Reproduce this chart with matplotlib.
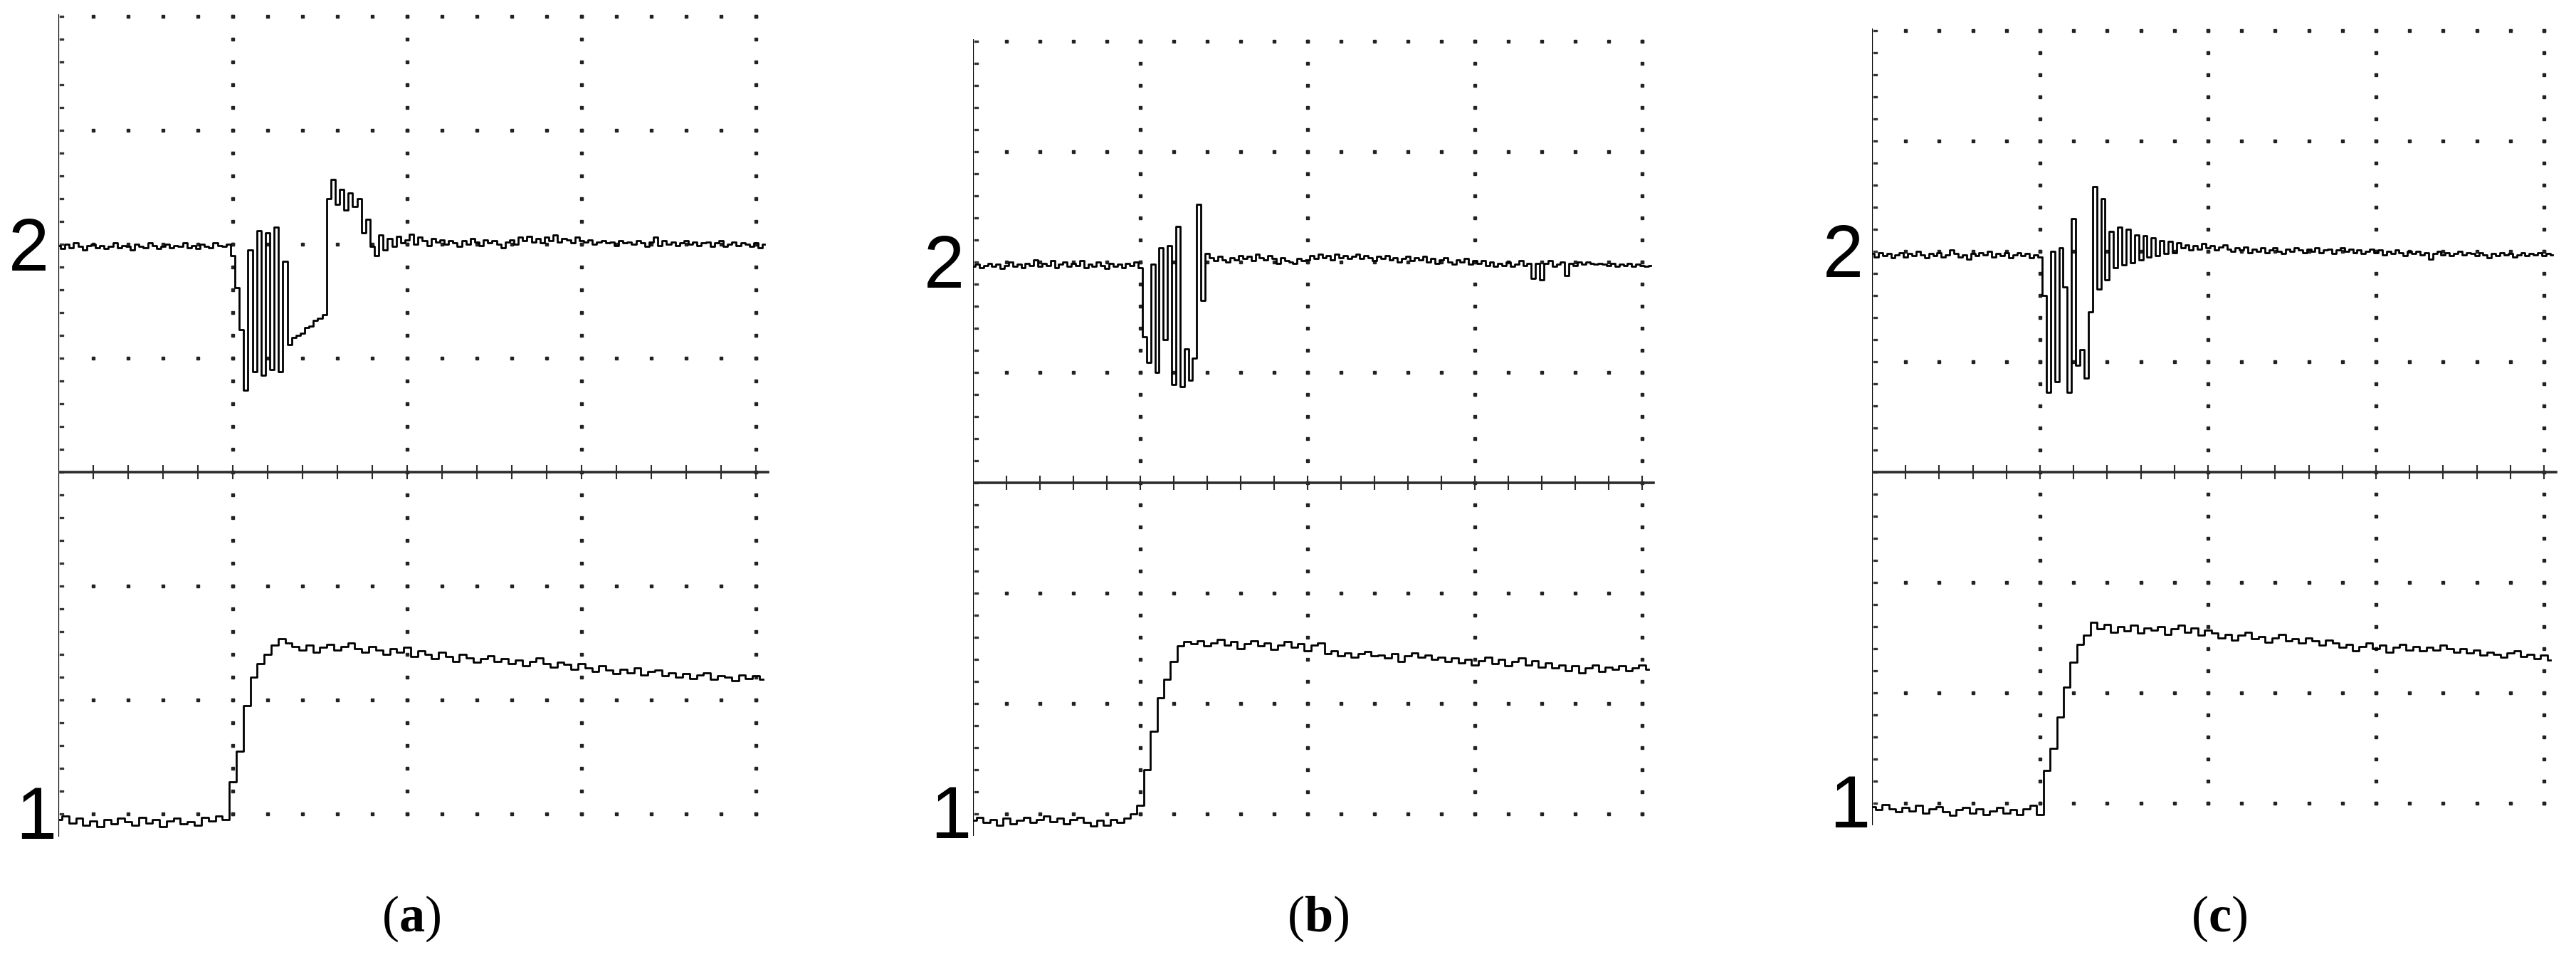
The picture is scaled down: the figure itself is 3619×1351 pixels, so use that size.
import numpy as np
import matplotlib
matplotlib.use('Agg')
import matplotlib.pyplot as plt

plt.rcParams['mathtext.fontset'] = 'custom'
plt.rcParams['mathtext.rm'] = 'Liberation Serif'
plt.rcParams['mathtext.bf'] = 'Liberation Serif:bold'

# channel 2 sampled every 0.025 div, channel 1 every 0.04 div (values in divisions, 0 = centre line)
a_ch2 = [1.99, 1.96, 2.00, 1.97, 2.01, 1.98, 1.95, 1.99, 2.00, 1.97,
         1.99, 1.96, 1.98, 2.01, 1.97, 1.99, 1.98, 1.95, 2.00, 1.98,
         1.97, 2.01, 1.99, 1.96, 1.98, 2.00, 1.97, 1.99, 1.98, 2.01,
         1.97, 1.99, 1.96, 2.00, 1.98, 1.97, 2.01, 1.99, 1.98, 2.00,
         1.90, 1.62, 1.25, 0.72, 1.95, 0.88, 2.12, 0.85, 2.10, 0.90,
         2.15, 0.88, 1.85, 1.12, 1.18, 1.20, 1.22, 1.27, 1.28, 1.33,
         1.35, 1.38, 2.40, 2.57, 2.35, 2.48, 2.30, 2.45, 2.33, 2.40,
         2.10, 2.22, 1.98, 1.90, 2.08, 1.95,
         2.05, 1.98, 2.07, 2.01, 2.04, 2.09, 2.00, 2.06, 2.03, 1.99,
         2.05, 2.02, 2.04, 2.00, 2.03, 2.01, 1.98, 2.03, 2.00, 2.05,
         2.02, 1.99, 2.04, 2.01, 2.03, 2.00, 1.97, 2.02, 2.04, 2.00,
         2.06, 2.03, 2.07, 2.02, 2.05, 2.01, 2.06, 2.03, 2.08, 2.02,
         2.05, 2.04, 2.01, 2.06, 2.03, 2.02, 2.04, 2.00, 2.02, 2.03,
         2.01, 2.02, 1.99, 2.03, 2.01, 2.02, 2.00, 2.03, 2.01, 1.98,
         2.02, 2.06, 1.99, 2.03, 2.00, 2.02, 1.99, 2.01, 2.03, 2.00,
         2.02, 1.99, 2.01, 2.02, 1.98, 2.01, 2.03, 1.98, 2.00, 2.02,
         1.99, 2.01, 2.00, 1.98, 2.01, 1.97, 2.00]
a_ch1 = [-3.05, -3.02, -3.08, -3.04, -3.10, -3.06, -3.11, -3.05, -3.09, -3.04,
         -3.07, -3.10, -3.03, -3.08, -3.05, -3.11, -3.06, -3.04, -3.09, -3.07,
         -3.10, -3.03, -3.06, -3.02, -3.05,
         -2.72, -2.45, -2.05, -1.80, -1.68, -1.60, -1.52, -1.46,
         -1.50, -1.53, -1.56, -1.52, -1.58, -1.54, -1.51, -1.56, -1.53, -1.50,
         -1.55, -1.58, -1.53, -1.56, -1.60, -1.55, -1.58, -1.54,
         -1.62, -1.57, -1.60, -1.64, -1.58, -1.62, -1.66, -1.60, -1.63, -1.67,
         -1.64, -1.61, -1.66, -1.64, -1.68, -1.65, -1.70, -1.66, -1.63, -1.68,
         -1.71, -1.67, -1.69, -1.73, -1.68,
         -1.72, -1.75, -1.70, -1.74, -1.77, -1.73, -1.76, -1.72, -1.78, -1.75,
         -1.74, -1.79, -1.76, -1.80, -1.77, -1.81, -1.78, -1.76, -1.82, -1.79,
         -1.80, -1.83, -1.78, -1.81, -1.79, -1.82]

b_ch2 = [1.96, 1.98, 1.95, 1.97, 1.99, 1.96, 1.98, 1.94, 1.97, 2.00,
         1.96, 1.98, 1.95, 1.99, 1.97, 2.02, 1.96, 1.99, 1.97, 2.01,
         1.95, 1.98, 2.00, 1.96, 1.99, 1.97, 2.01, 1.95, 1.98, 1.96,
         2.00, 1.97, 1.94, 1.99, 1.96, 1.98, 1.95, 1.99, 1.97, 2.00,
         1.95, 1.32, 1.09, 1.98, 1.00, 2.13, 1.30, 2.15, 0.89, 2.32,
         0.87, 1.21, 0.93, 1.13, 2.52, 1.65, 2.08,
         2.04, 2.01, 2.05, 2.02, 2.00, 2.04, 2.02, 2.06, 2.03, 2.05,
         2.01, 2.07, 2.04, 2.02, 2.06, 2.03, 1.99, 2.04, 2.01, 2.00,
         1.99, 2.03, 2.01, 2.02,
         2.06, 2.03, 2.07, 2.04, 2.06, 2.02, 2.07, 2.04, 2.06, 2.03,
         2.05, 2.07, 2.03, 2.06, 2.04, 2.01, 2.05, 2.03, 2.06, 2.02,
         2.04, 2.00, 2.03, 2.05, 2.01, 2.04, 2.02, 2.05, 2.00, 2.03,
         1.99, 2.02, 2.04, 2.00, 1.98, 2.02, 2.00, 2.03, 1.98, 2.01,
         1.99, 2.01, 1.97, 2.00, 1.96, 1.99, 1.97, 2.00, 1.96, 1.98,
         2.01, 1.97, 1.99, 1.85, 1.99, 1.84, 1.99, 2.01, 1.96, 1.98,
         2.00, 1.88, 1.99, 1.97, 2.00, 1.98, 2.00, 1.99, 1.98, 1.99,
         1.98, 1.97, 1.99, 1.96, 1.98, 1.97, 1.99, 1.96, 1.98, 1.97,
         1.96, 1.97]
b_ch1 = [-3.06, -3.03, -3.08, -3.05, -3.10, -3.04, -3.09, -3.06, -3.03, -3.08,
         -3.05, -3.02, -3.07, -3.04, -3.09, -3.05, -3.03, -3.08, -3.11, -3.06,
         -3.10, -3.05, -3.08, -3.04,
         -3.00, -2.92, -2.60, -2.25, -1.95, -1.78, -1.62, -1.48, -1.44,
         -1.46, -1.43, -1.48, -1.45, -1.42, -1.47, -1.44, -1.50, -1.46, -1.43,
         -1.48, -1.45, -1.51, -1.47, -1.44, -1.49, -1.46, -1.52, -1.47, -1.45,
         -1.55, -1.52, -1.57, -1.54, -1.58, -1.55, -1.53, -1.57, -1.56, -1.59,
         -1.55, -1.62, -1.57, -1.54, -1.58, -1.56, -1.60,
         -1.58, -1.62, -1.59, -1.63, -1.60, -1.65, -1.61, -1.58, -1.64, -1.60,
         -1.66, -1.62, -1.59, -1.65, -1.61, -1.67,
         -1.63, -1.68, -1.65, -1.70, -1.66, -1.72, -1.68, -1.65, -1.71, -1.67,
         -1.69, -1.66, -1.70, -1.68, -1.65, -1.69]

c_ch2 = [1.98, 1.95, 1.99, 1.96, 1.98, 1.94, 1.97, 1.99, 1.95, 1.98,
         1.96, 2.00, 1.97, 1.94, 1.98, 1.96, 1.99, 1.95, 1.97, 2.01,
         1.98, 1.95, 1.97, 1.93, 1.98, 1.96, 1.99, 1.97, 2.00, 1.95,
         1.98, 1.96, 1.99, 1.94, 1.97, 1.99, 1.96, 1.98, 1.94, 1.97,
         1.95, 1.60, 0.72, 2.00, 0.82, 2.03, 1.68, 0.72, 2.30, 0.97,
         1.11, 0.85, 1.45, 2.59, 1.66, 2.48, 1.74, 2.18, 1.85, 2.22,
         1.88, 2.20, 1.90, 2.15, 1.92, 2.14, 1.95, 2.12, 1.96, 2.10,
         1.98, 2.09, 1.99, 2.08,
         2.03, 2.06, 2.01, 2.05, 2.02, 2.07, 2.03, 2.05, 2.01, 2.04,
         2.06, 2.02, 2.00, 2.03, 2.01, 2.04, 1.99, 2.02, 2.00, 2.03,
         1.99, 2.01, 2.03, 2.00, 1.98, 2.02, 2.00, 2.03, 2.01, 1.99,
         2.02, 2.00, 2.03, 1.99, 2.01, 2.02, 1.98, 2.01, 2.03, 2.00,
         2.02, 1.99, 2.01, 1.98, 2.00, 2.02, 1.99, 2.01, 1.97, 2.00,
         1.98, 2.01, 1.99, 1.96, 2.00, 1.98, 2.00, 1.97, 1.99, 1.93,
         1.98, 2.00, 1.97, 1.99, 1.96, 1.98, 2.00, 1.97, 1.99, 1.98,
         1.96, 1.99, 1.97, 1.94, 1.98, 1.96, 1.99, 1.97, 1.98, 1.95,
         1.97, 1.99, 1.96, 1.98, 1.97, 1.99, 1.96, 1.98, 1.97]
c_ch1 = [-3.03, -3.06, -3.01, -3.05, -3.08, -3.04, -3.07, -3.02, -3.09, -3.05,
         -3.03, -3.08, -3.11, -3.06, -3.04, -3.09, -3.05, -3.10, -3.07, -3.04,
         -3.09, -3.06, -3.10, -3.05, -3.02,
         -3.10, -2.70, -2.50, -2.22, -1.95, -1.72, -1.56, -1.48, -1.36,
         -1.42, -1.38, -1.45, -1.40, -1.44, -1.39, -1.46, -1.41, -1.43, -1.40,
         -1.47, -1.42, -1.39, -1.45, -1.41, -1.48, -1.43,
         -1.46, -1.50, -1.47, -1.52, -1.48, -1.45, -1.51, -1.49, -1.54, -1.50,
         -1.47, -1.53, -1.51, -1.55, -1.50, -1.53, -1.57, -1.52,
         -1.55, -1.59, -1.56, -1.62, -1.58, -1.55, -1.60, -1.57, -1.63, -1.59,
         -1.56, -1.61, -1.58, -1.62, -1.59, -1.61, -1.57, -1.60, -1.63,
         -1.60, -1.64, -1.61, -1.66, -1.63, -1.65, -1.68, -1.64, -1.62, -1.67,
         -1.65, -1.69, -1.66, -1.70]

captions = ['a', 'b', 'c']
channel_labels = ['2', '1']

W, H = 3619, 1351
fig = plt.figure(figsize=(W / 100, H / 100), dpi=100)

# pixel layout of each screen: left edge, px per x-div, centre line y, px per y-div, caption x
layout = [(82, 245, 663, 160, 578),
          (1367, 235, 678, 155, 1852),
          (2630, 236, 663, 155, 3118)]
traces = [(a_ch2, a_ch1), (b_ch2, b_ch1), (c_ch2, c_ch1)]

xmax, ylo, yhi = 4.15, -3.35, 4.1
gx = np.arange(1, 21) * 0.2
gy = np.arange(-15, 21) * 0.2

for (x0, xd, ym, yd, cx), (ch2, ch1), cap in zip(layout, traces, captions):
    ax = fig.add_axes([x0 / W, 1 - (ym - ylo * yd) / H, xmax * xd / W, (yhi - ylo) * yd / H])
    ax.set_xlim(0, xmax)
    ax.set_ylim(ylo, yhi)
    ax.axis('off')

    dot = dict(marker='s', ms=2.3, color='#222222', lw=0)
    for row in [4, 3, 2, 1, -1, -2, -3]:
        ax.plot(gx, np.full(len(gx), row), **dot)
    for col in [1, 2, 3, 4]:
        ax.plot(np.full(len(gy), col), gy, **dot)
    ax.plot(np.full(len(gy), 0.012), gy, marker='s', ms=1.6, color='#333333', lw=0)
    ax.plot(np.full(len(gy), 0.024), gy, marker='s', ms=1.6, color='#333333', lw=0)

    ax.plot([0, 0], [-3.2, 4.02], color='black', lw=1.6, solid_capstyle='butt')
    ax.plot([0, 4.07], [0, 0], color='#2b2b2b', lw=2.6)
    ax.plot(gx, np.zeros(len(gx)), '|', ms=14, mew=1.5, color='#2b2b2b')

    t2 = np.arange(len(ch2)) * 0.025
    t1 = np.arange(len(ch1)) * 0.04
    ax.plot(t2, ch2, color='black', lw=2.0, drawstyle='steps-mid')
    ax.plot(t1, ch1, color='black', lw=2.0, drawstyle='steps-mid')

    ax.text(-0.053, 1.77, channel_labels[0], fontsize=74, family='Liberation Sans',
            ha='right', va='baseline', clip_on=False)
    ax.text(-0.01, -3.22, channel_labels[1], fontsize=74, family='Liberation Sans',
            ha='right', va='baseline', clip_on=False)

    fig.text(cx / W, 1 - 1290 / H, r'$(\mathbf{' + cap + r'})$', fontsize=52,
             ha='center', va='center')

fig.savefig('out.png', dpi=100)
